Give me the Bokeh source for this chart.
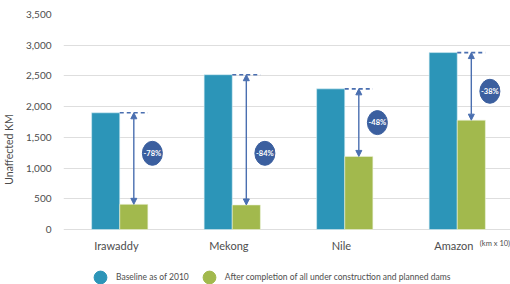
from bokeh.plotting import figure
from bokeh.models import (ColumnDataSource, FactorRange, Range1d, Legend, LegendItem,
                          Arrow, NormalHead, Label, NumeralTickFormatter, FixedTicker)
from bokeh.transform import dodge
from bokeh.core.properties import value
from bokeh.embed import file_html
from bokeh.resources import INLINE

rivers = ["Irawaddy", "Mekong", "Nile", "Amazon"]
baseline = [1900, 2520, 2290, 2880]
after = [410, 400, 1190, 1780]
change_labels = ["-78%", "-84%", "-48%", "-38%"]
label_y = [1240, 1240, 1740, 2250]
y_ticks = [0, 500, 1000, 1500, 2000, 2500, 3000, 3500]

BLUE = "#2c95b8"
GREEN = "#a2b94d"
ARROW = "#4a6fb0"
BADGE = "#3b5f9f"
TXT = "#4d4d4d"
FONT = "Lato"

src = ColumnDataSource(dict(river=rivers, baseline=baseline, after=after,
                            lab=change_labels, laby=label_y))

# frame reaches the bottom of the canvas so the category labels and legend sit inside it
p = figure(x_range=FactorRange(*rivers, range_padding=0), y_range=Range1d(-895, 3500),
           frame_width=450, frame_height=270, min_border_left=58, min_border_top=14,
           min_border_right=2, min_border_bottom=0, x_axis_location=None,
           output_backend="svg", toolbar_location=None)
p.outline_line_color = None
p.background_fill_color = "white"

b1 = p.vbar(x=dodge("river", -0.125, range=p.x_range), top="baseline", width=0.25,
            source=src, fill_color=BLUE, line_color="#d8eef5", line_width=0.6)
b2 = p.vbar(x=dodge("river", 0.125, range=p.x_range), top="after", width=0.25,
            source=src, fill_color=GREEN, line_color="#eef4dc", line_width=0.6)

# dashed reference lines at baseline level
p.segment(x0=dodge("river", 0.0, range=p.x_range), x1=dodge("river", 0.25, range=p.x_range),
          y0="baseline", y1="baseline", source=src, line_color=ARROW, line_width=1.6,
          line_dash="4 3")

# double-headed arrows
arr = Arrow(x_start=dodge("river", 0.125, range=p.x_range), y_start="baseline",
            x_end=dodge("river", 0.125, range=p.x_range), y_end="after",
            source=src, line_color=ARROW, line_width=1.4,
            start=NormalHead(size=6, fill_color=ARROW, line_color=ARROW),
            end=NormalHead(size=6, fill_color=ARROW, line_color=ARROW))
p.add_layout(arr)

# badges
p.ellipse(x=dodge("river", 0.29, range=p.x_range), y="laby", width=20, height=24,
          width_units="screen", height_units="screen", source=src,
          fill_color=BADGE, line_color=BADGE)
p.text(x=dodge("river", 0.29, range=p.x_range), y="laby", text="lab", source=src,
       text_color="white", text_font=value(FONT), text_font_size="7.5px",
       text_font_style="bold", text_align="center", text_baseline="middle")

# category labels under the zero line
p.text(x=dodge("river", -0.03, range=p.x_range), y=-262, text="river", source=src,
       text_color=TXT, text_font=value(FONT), text_font_size="11px",
       text_align="center", text_baseline="middle")

# y axis
p.yaxis.bounds = (0, 3500)
p.yaxis.ticker = FixedTicker(ticks=y_ticks)
p.yaxis.formatter = NumeralTickFormatter(format="0,0")
p.yaxis.axis_line_color = None
p.yaxis.major_tick_line_color = None
p.yaxis.minor_tick_line_color = None
p.yaxis.major_label_text_font = FONT
p.yaxis.major_label_text_font_size = "10px"
p.yaxis.major_label_text_color = TXT
p.yaxis.major_label_standoff = 6
p.yaxis.axis_label = "Unaffected KM"
p.yaxis.axis_label_text_font = FONT
p.yaxis.axis_label_text_font_size = "10.5px"
p.yaxis.axis_label_text_font_style = "normal"
p.yaxis.axis_label_text_color = TXT
p.yaxis.axis_label_standoff = 8
p.ygrid.grid_line_color = "#dedede"
p.ygrid.grid_line_width = 1.2
p.xgrid.grid_line_color = None

p.add_layout(Label(x=3.97, y=-228, text="(km x 10)", text_font=FONT,
                   text_font_size="7.5px", text_color=TXT, text_align="right",
                   text_baseline="middle"))

# legend with circle markers (point size 0: only the legend swatch shows)
d1 = p.scatter(x="river", y="baseline", source=src, size=0, marker="circle",
               fill_color=BLUE, line_color=BLUE)
d2 = p.scatter(x="river", y="after", source=src, size=0, marker="circle",
               fill_color=GREEN, line_color=GREEN)
legend = Legend(items=[LegendItem(label="Baseline as of 2010", renderers=[d1]),
                       LegendItem(label="After completion of all under construction and planned dams", renderers=[d2])],
                orientation="horizontal", location=(21, -9),
                glyph_width=32, glyph_height=32, label_standoff=0, spacing=4,
                padding=0, margin=0, border_line_color=None, background_fill_alpha=0,
                label_text_font=FONT, label_text_font_size="8.5px", label_text_color=TXT)
p.add_layout(legend)

open("out.html", "w").write(file_html(p, INLINE))
